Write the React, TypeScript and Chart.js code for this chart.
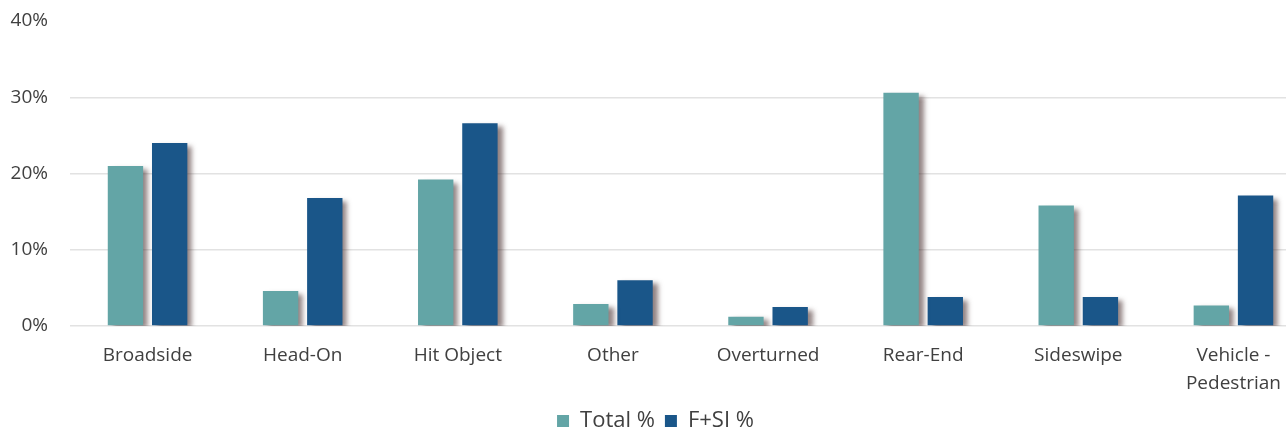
import React, { useEffect, useRef } from "react";
import { Chart, registerables } from "chart.js";

Chart.register(...registerables);

const categories: (string | string[])[] = [
  "Broadside",
  "Head-On",
  "Hit Object",
  "Other",
  "Overturned",
  "Rear-End",
  "Sideswipe",
  ["Vehicle -", "Pedestrian"],
];
const totalPct = [21.0, 4.6, 19.2, 2.9, 1.2, 30.6, 15.8, 2.7];
const fsiPct = [24.0, 16.8, 26.6, 6.0, 2.5, 3.8, 3.8, 17.1];
const seriesNames = ["Total %", "F+SI %"];
const yTicks = [0, 10, 20, 30, 40];

const TEAL = "#63A5A6";
const BLUE = "#1A5689";
const FONT = "'Open Sans', sans-serif";

const shadowPlugin = {
  id: "barShadow",
  beforeDatasetsDraw(chart: any) {
    const ctx = chart.ctx;
    ctx.save();
    ctx.shadowColor = "rgba(70,45,45,0.6)";
    ctx.shadowBlur = 5;
    ctx.shadowOffsetX = 5;
    ctx.shadowOffsetY = 3;
  },
  afterDatasetsDraw(chart: any) {
    chart.ctx.restore();
  },
};

export default function App() {
  const ref = useRef<HTMLCanvasElement>(null);
  useEffect(() => {
    if (!ref.current) return;
    const chart = new Chart(ref.current, {
      type: "bar",
      data: {
        labels: categories as any,
        datasets: [
          {
            label: seriesNames[0],
            data: totalPct,
            backgroundColor: TEAL,
            categoryPercentage: 0.57,
            barPercentage: 0.8,
          },
          {
            label: seriesNames[1],
            data: fsiPct,
            backgroundColor: BLUE,
            categoryPercentage: 0.57,
            barPercentage: 0.8,
          },
        ],
      },
      options: {
        animation: false,
        responsive: true,
        maintainAspectRatio: false,
        layout: { padding: { top: 21, left: 0, right: 0, bottom: 0 } },
        plugins: {
          tooltip: { enabled: false },
          legend: {
            position: "bottom",
            labels: {
              boxWidth: 12,
              boxHeight: 12,
              padding: 10,
              color: "#404040",
              font: { family: FONT, size: 22 },
            },
          },
        },
        scales: {
          x: {
            grid: { display: false, drawTicks: false },
            border: { display: false },
            ticks: {
              color: "#404040",
              padding: 16,
              maxRotation: 0,
              autoSkip: false,
              font: { family: FONT, size: 19, lineHeight: 1.45 },
            },
            afterFit(scale: any) {
              scale.height = 74;
            },
          },
          y: {
            min: 0,
            max: 40,
            afterBuildTicks(scale: any) {
              scale.ticks = yTicks.map((v) => ({ value: v }));
            },
            afterFit(scale: any) {
              scale.width = 70;
              scale.paddingTop = 0;
              scale.paddingBottom = 0;
            },
            grid: {
              drawTicks: false,
              color: (c: any) => (c.tick && c.tick.value === 40 ? "rgba(0,0,0,0)" : "#e2e2e2"),
              lineWidth: 1.5,
            },
            border: { display: false },
            ticks: {
              color: "#404040",
              padding: 22,
              font: { family: FONT, size: 19 },
              callback: (v: any) => v + "%",
            },
          },
        },
      },
      plugins: [shadowPlugin],
    });
    return () => chart.destroy();
  }, []);

  return (
    <div
      style={{
        position: "fixed",
        left: 0,
        top: 0,
        width: 1286,
        height: 433,
        overflow: "hidden",
        background: "#fff",
      }}
    >
      <div style={{ position: "relative", width: 1311, height: 442 }}>
        <canvas ref={ref} />
      </div>
    </div>
  );
}
